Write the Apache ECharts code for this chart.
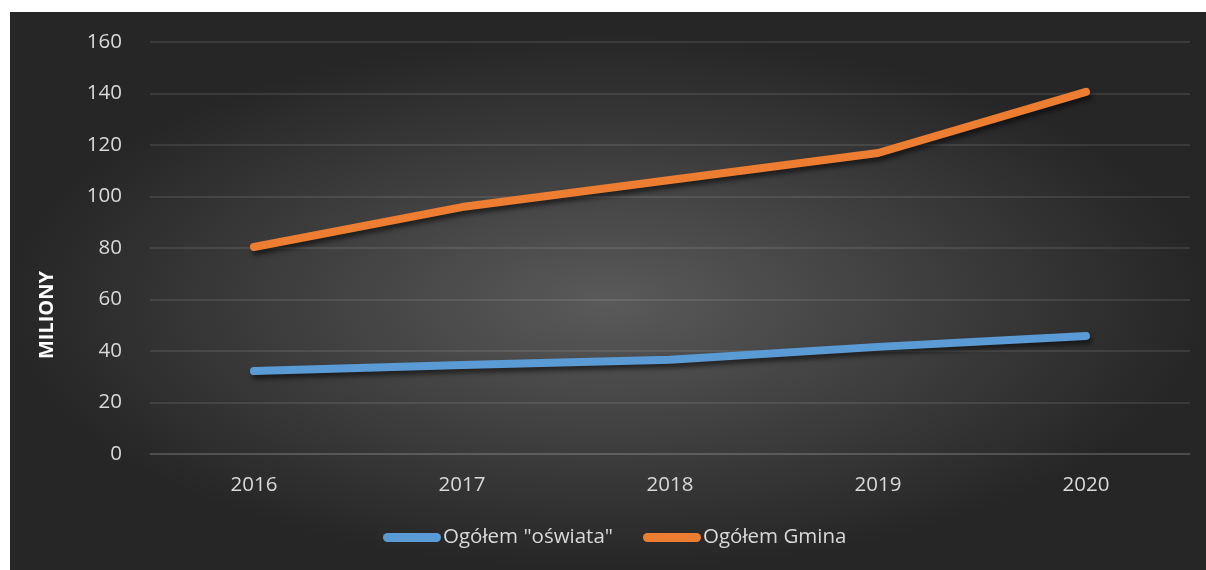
<!DOCTYPE html>
<html><head><meta charset="utf-8">
<script src="https://cdn.jsdelivr.net/npm/echarts@6/dist/echarts.min.js"></script>
<style>
html,body{margin:0;padding:0;background:#fff;width:1206px;height:570px;overflow:hidden;}
#c{position:absolute;left:10px;top:12px;width:1196px;height:558px;
background:radial-gradient(ellipse closest-side at 50% 52%, #5a5a5a 0%, #262626 100%);}
</style></head><body>
<div id="c"></div>
<script>
const categories = ['2016','2017','2018','2019','2020'];
const oswiata = [32.2, 34.6, 36.6, 41.6, 45.8];
const gmina = [80.4, 95.9, 106.4, 116.9, 140.6];
const yTicks = {min:0, max:160, interval:20};
const seriesNames = ['Ogółem "oświata"', 'Ogółem Gmina'];

const chart = echarts.init(document.getElementById('c'), null, {renderer:'canvas'});
const FONT = 'Open Sans';
function lineSeries(name, data, color){
  return {
    name, type:'line', data, symbol:'none', smooth:false,
    lineStyle:{color, width:8, cap:'round', join:'round',
      shadowColor:'rgba(0,0,0,0.55)', shadowBlur:5, shadowOffsetX:2, shadowOffsetY:4},
    itemStyle:{color}
  };
}
chart.setOption({
  backgroundColor:'transparent',
  animation:false,
  grid:{left:140, right:16, top:30, bottom:116},
  xAxis:{type:'category', data:categories, boundaryGap:true,
    axisLine:{show:true, lineStyle:{color:'rgba(255,255,255,0.13)', width:1.5}},
    axisTick:{show:false},
    axisLabel:{color:'#d9d9d9', fontFamily:FONT, fontSize:20.5, margin:21}},
  yAxis:{type:'value', min:yTicks.min, max:yTicks.max, interval:yTicks.interval,
    axisLine:{show:false}, axisTick:{show:false},
    splitLine:{lineStyle:{color:'rgba(255,255,255,0.13)', width:1.5}},
    axisLabel:{color:'#d9d9d9', fontFamily:FONT, fontSize:20.5, margin:28}},
  legend:{bottom:17, left:368, itemWidth:58, itemHeight:9, itemGap:30,
    icon:'path://M4.5,0 H53.5 A4.5,4.5 0 0 1 53.5,9 H4.5 A4.5,4.5 0 0 1 4.5,0 Z',
    textStyle:{color:'#d9d9d9', fontFamily:FONT, fontSize:20.5, padding:[0,0,0,-3]},
    data:seriesNames},
  graphic:[{type:'text', x:37, y:303, rotation:Math.PI/2,
    style:{text:'MILIONY', fill:'#ffffff', font:'bold 20px '+FONT, textAlign:'center', textVerticalAlign:'middle'}}],
  series:[lineSeries(seriesNames[0], oswiata, '#5b9bd5'), lineSeries(seriesNames[1], gmina, '#ed7d31')]
});
</script>
</body></html>
